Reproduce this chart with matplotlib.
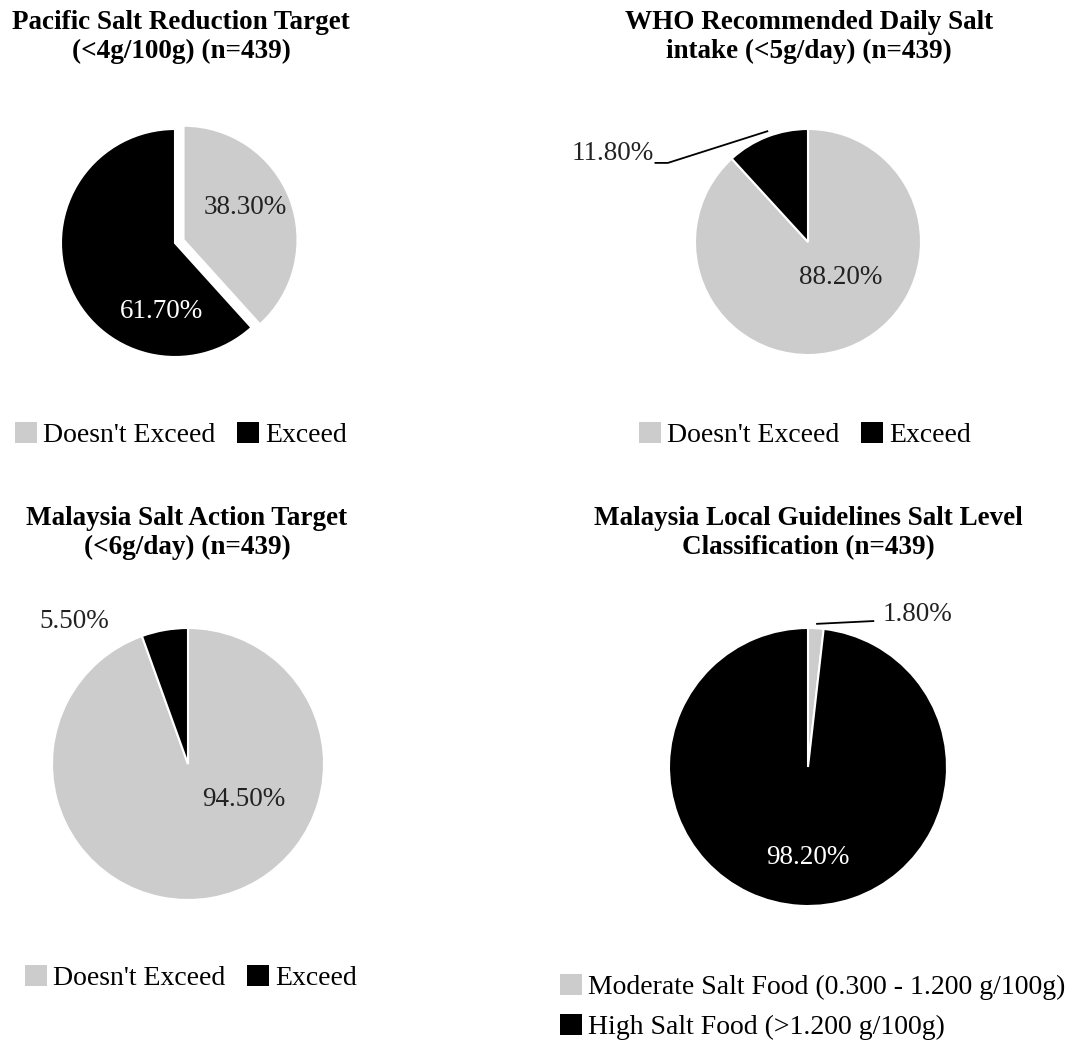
import matplotlib.pyplot as plt
from matplotlib.patches import Patch

plt.rcParams['font.family'] = ['Liberation Serif', 'DejaVu Serif']

W, H = 1074, 1050
GRAY = '#cccccc'
BLACK = '#000000'

exceed_labels = ["Doesn't Exceed", "Exceed"]
guideline_labels = ["Moderate Salt Food (0.300 - 1.200 g/100g)", "High Salt Food (>1.200 g/100g)"]

pacific = [38.3, 61.7]
who = [88.2, 11.8]
malaysia_target = [94.5, 5.5]
malaysia_local = [1.8, 98.2]

titles = ["Pacific Salt Reduction Target\n(<4g/100g) (n=439)",
          "WHO Recommended Daily Salt\nintake (<5g/day) (n=439)",
          "Malaysia Salt Action Target\n(<6g/day) (n=439)",
          "Malaysia Local Guidelines Salt Level\nClassification (n=439)"]

fig = plt.figure(figsize=(W / 100, H / 100), dpi=100)


def draw_pie(cx, cy, r, values, explode=None):
    ax = fig.add_axes([(cx - r) / W, 1 - (cy + r) / H, 2 * r / W, 2 * r / H])
    wedges, _ = ax.pie(values, colors=[GRAY, BLACK], startangle=90, counterclock=False,
                       explode=explode, frame=True,
                       wedgeprops=dict(edgecolor='white', linewidth=1.5))
    for w in wedges:
        w.set_clip_on(False)
    ax.set_xlim(-1, 1)
    ax.set_ylim(-1, 1)
    ax.axis('off')
    return ax


def pct(v):
    return f"{v:.2f}%"


def legend(handles_labels, x, y, ncol):
    handles = [Patch(facecolor=GRAY, edgecolor='none'), Patch(facecolor=BLACK, edgecolor='none')]
    fig.legend(handles, handles_labels, loc='center left', bbox_to_anchor=(x / W, 1 - y / H),
               ncol=ncol, frameon=False, fontsize=20, borderpad=0, borderaxespad=0,
               handlelength=0.8, handleheight=0.8, handletextpad=0.2, columnspacing=0.8,
               labelspacing=0.5)


# titles
for (x, y), t in zip([(181, 37), (809, 37), (187, 533), (808, 533)], titles):
    fig.text(x / W, 1 - y / H, t, ha='center', va='center', fontsize=19.5, fontweight='bold',
             linespacing=1.25)

# Pacific
ax = draw_pie(175, 243, 114, pacific, explode=[0.08, 0])
ax.text(0.62, 0.31, pct(pacific[0]), ha='center', va='center', fontsize=19.5, color='#222222')
ax.text(-0.12, -0.6, pct(pacific[1]), ha='center', va='center', fontsize=19.5, color='white')
legend(exceed_labels, 15, 435, 2)

# WHO
ax = draw_pie(808, 242, 113, who)
ax.text(0.29, -0.31, pct(who[0]), ha='center', va='center', fontsize=19.5, color='#222222')
ax.text(-1.73, 0.78, pct(who[1]), ha='center', va='center', fontsize=19.5, color='#222222')
ax.plot([-1.35, -1.24, -0.36], [0.70, 0.70, 0.98], color='black', lw=1.3, clip_on=False)
legend(exceed_labels, 639, 435, 2)

# Malaysia target
ax = draw_pie(188, 764, 136, malaysia_target)
ax.text(0.41, -0.26, pct(malaysia_target[0]), ha='center', va='center', fontsize=19.5, color='#222222')
ax.text(-0.84, 1.05, pct(malaysia_target[1]), ha='center', va='center', fontsize=19.5, color='#222222')
legend(exceed_labels, 25, 978, 2)

# Malaysia local guidelines
ax = draw_pie(808, 767, 139, malaysia_local)
ax.text(0.79, 1.10, pct(malaysia_local[0]), ha='center', va='center', fontsize=19.5, color='#222222')
ax.plot([0.065, 0.47], [1.03, 1.05], color='black', lw=1.3, clip_on=False)
ax.text(0.0, -0.65, pct(malaysia_local[1]), ha='center', va='center', fontsize=19.5, color='white')
legend(guideline_labels, 560, 1007, 1)

fig.savefig('out.png', dpi=100, facecolor='white')
